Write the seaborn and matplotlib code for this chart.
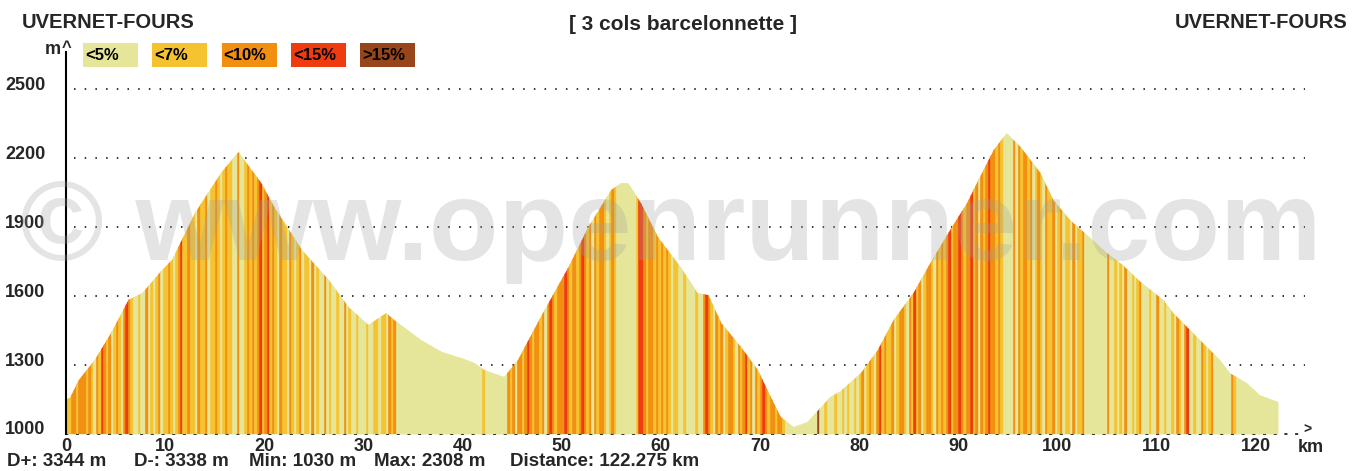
import numpy as np
import matplotlib
matplotlib.use("Agg")
import matplotlib.pyplot as plt
from matplotlib.patches import Rectangle
from matplotlib.transforms import ScaledTranslation
import seaborn as sns

# elevation profile (km, m)
km_pts = [0, 0.4, 1.3, 2.9, 4.6, 6.3, 7.7, 9.7, 10.7, 13.0, 15.7, 17.4,
          19.7, 21.0, 23.8, 26.5, 28.5, 30.5, 32.3, 33.1, 35.8, 37.9, 39.9,
          41.2, 42.2, 44.2, 45.6, 47.9, 50.7, 52.7, 55.0, 56.0, 56.7, 58.0,
          59.7, 62.0, 63.7, 64.8, 66.1, 68.1, 69.8, 71.1, 72.1, 73.4, 74.8,
          76.1, 77.1, 78.1, 80.2, 81.9, 83.5, 85.5, 87.2, 89.2, 90.9, 92.2,
          93.6, 94.9, 96.3, 98.3, 99.6, 101.3, 103.0, 105.0, 106.6, 108.4,
          110.7, 111.7, 113.4, 115.1, 116.4, 117.4, 119.1, 120.4, 121.7, 122.275]
elev = [1150, 1157, 1235, 1322, 1443, 1583, 1613, 1713, 1757, 1960, 2139, 2226,
        2091, 1987, 1800, 1670, 1552, 1474, 1526, 1496, 1409, 1357, 1330,
        1309, 1278, 1248, 1322, 1509, 1726, 1900, 2061, 2091, 2091, 2004,
        1857, 1726, 1613, 1604, 1483, 1378, 1278, 1161, 1074, 1030, 1052,
        1113, 1161, 1185, 1265, 1365, 1496, 1613, 1743, 1887, 2004, 2117,
        2235, 2308, 2248, 2135, 2017, 1930, 1865, 1787, 1735, 1661,
        1583, 1526, 1452, 1378, 1322, 1265, 1222, 1170, 1148, 1140]

# gradient class of every 0.25 km slice, one string per 10 km
# 0: <5%  1: <7%  2: <10%  3: <15%  4: >15%
seg_len = 0.25
grade_rows = [
    "1122122212102132120121023210010020101201",
    "1210123112110211201121012110020012121231",
    "2312102110210120110201002010010020100100",
    "0100110110212000000000000000000000000000",
    "0000000010000000002120221232122120232122",
    "2321221232120212210121000000001332122121",
    "2121011001000010023210212012210212312021",
    "2321221221000000000000040010001001010010",
    "1201210231211201221021312012210212123122",
    "3212231202123221210000202122120121021120",
    "1201102011200000000020010102001012000100",
    "2001001021023001002101200000002100000000",
    "0000000000",
]
grade_cls = [int(c) for c in "".join(grade_rows)]

legend_labels = ["<5%", "<7%", "<10%", "<15%", ">15%"]
grade_colors = ["#e6e69a", "#f5c330", "#f28e10", "#ee3c10", "#96461a"]

y_ticks = [1000, 1300, 1600, 1900, 2200, 2500]
x_ticks = list(range(0, 121, 10))

title = "[ 3 cols barcelonnette ]"
start_name = "UVERNET-FOURS"
end_name = "UVERNET-FOURS"
stats = ["D+: 3344 m", "D-: 3338 m", "Min: 1030 m", "Max: 2308 m",
         "Distance: 122.275 km"]
stats_x = [7, 134, 249, 374, 510]

sns.set_style("white")
plt.rcParams["font.family"] = ["Liberation Sans", "DejaVu Sans"]
plt.rcParams["font.weight"] = "bold"

W, H = 1362, 471
fig = plt.figure(figsize=(W / 100, H / 100), dpi=100)
ax = fig.add_axes([66 / W, 1 - 434 / H, (1305 - 66) / W, (434 - 52) / H])
ax.set_xlim(0, 125)
ax.set_ylim(1000, 2661)
ax.set_facecolor("white")

ax.hlines(y_ticks[1:], 0.8, 125, colors="black",
          linestyles=(0, (1, 6)), lw=1.1, zorder=1)

fill = ax.fill_between(km_pts, elev, 1000, color=grade_colors[0],
                       lw=0, zorder=2)
clip = fill.get_paths()[0]

seg_left = np.arange(len(grade_cls)) * seg_len
seg_colors = [grade_colors[c] for c in grade_cls]
bars = ax.bar(seg_left, 1700, bottom=1000, width=seg_len, align="edge",
              color=seg_colors, edgecolor=seg_colors, lw=0.4, zorder=3)
for b in bars:
    b.set_clip_path(clip, ax.transData)

for s in ["top", "right"]:
    ax.spines[s].set_visible(False)
ax.spines["left"].set_color("black")
ax.spines["left"].set_linewidth(1.5)
ax.spines["left"].set_zorder(5)
ax.spines["bottom"].set_color("black")
ax.spines["bottom"].set_linestyle((0, (1, 6)))
ax.spines["bottom"].set_linewidth(1.1)

ax.set_xticks(x_ticks)
ax.set_yticks(y_ticks)
ax.tick_params(axis="both", length=0, labelsize=13)
ax.tick_params(axis="y", pad=15)
ax.tick_params(axis="x", pad=3)
for lab in ax.get_yticklabels():
    lab.set_transform(lab.get_transform()
                      + ScaledTranslation(0, 6 / 100, fig.dpi_scale_trans))
for lab in ax.get_xticklabels() + ax.get_yticklabels():
    lab.set_fontweight("bold")

# watermark
fig.text(20 / W, 1 - 260 / H, "© www.openrunner.com", fontsize=82,
         color="#a0a0a0", alpha=0.28, ha="left", va="baseline", zorder=10)

# headers
fig.text(22 / W, 1 - 22 / H, start_name, fontsize=14.5, ha="left", va="center")
fig.text(1347 / W, 1 - 22 / H, end_name, fontsize=14.5, ha="right", va="center")
fig.text(683 / W, 1 - 25 / H, title, fontsize=15, ha="center", va="center")

# axis decorations
fig.text(61 / W, 1 - 49 / H, "m", fontsize=13, ha="right", va="center")
fig.text(67 / W, 1 - 47 / H, "^", fontsize=12, ha="center", va="center")
fig.text(1307 / W, 1 - 430 / H, ">", fontsize=10, ha="center", va="center")
fig.text(1311 / W, 1 - 447 / H, "km", fontsize=13, ha="center", va="center")

# gradient legend
for i, (lab, col) in enumerate(zip(legend_labels, grade_colors)):
    x0 = 83 + i * 69.3
    fig.add_artist(Rectangle((x0 / W, 1 - 67 / H), 55 / W, 24 / H,
                             transform=fig.transFigure, facecolor=col,
                             edgecolor="none"))
    fig.text((x0 + 2) / W, 1 - 56 / H, lab, fontsize=12, ha="left",
             va="center", color="black")

# summary line
for txt, x in zip(stats, stats_x):
    fig.text(x / W, 1 - 461 / H, txt, fontsize=13.5, ha="left", va="center")

fig.savefig("out.png", dpi=100)
